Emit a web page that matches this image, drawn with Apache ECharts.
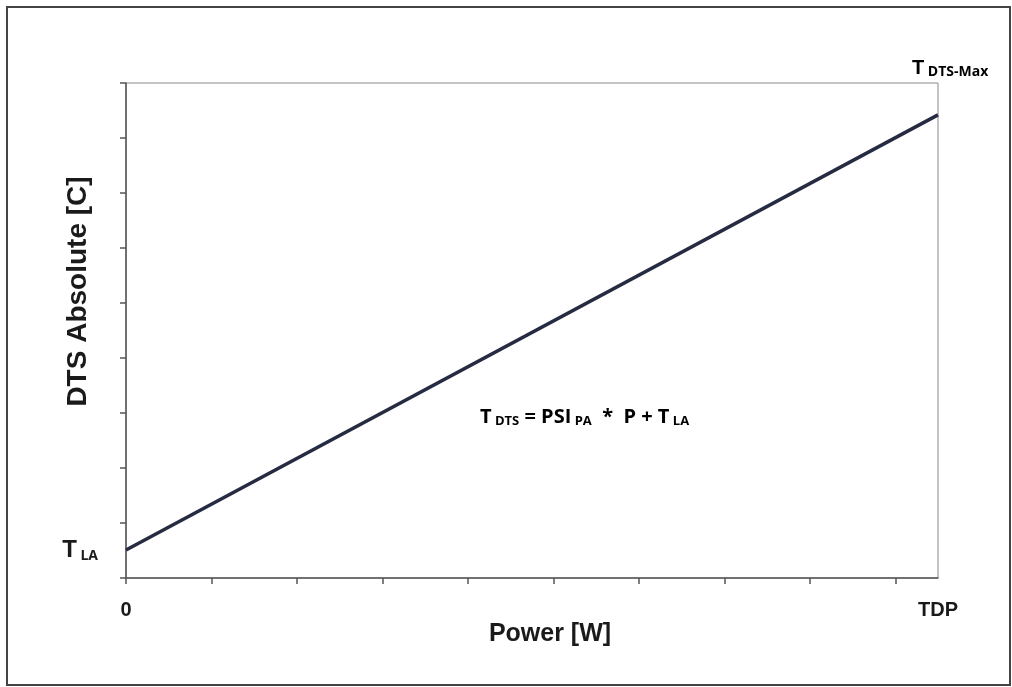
<!DOCTYPE html>
<html>
<head>
<meta charset="utf-8">
<script src="https://cdn.jsdelivr.net/npm/echarts@6/dist/echarts.min.js"></script>
<style>
html, body { margin: 0; padding: 0; background: #fff; }
#chart { width: 1012px; height: 687px; }
</style>
</head>
<body>
<div id="chart"></div>
<script>
// power axis runs 0 .. TDP, ticks every unit, TDP sits half a unit past the last tick
var powerTicks = [0, 1, 2, 3, 4, 5, 6, 7, 8, 9];
var powerEnds = [0, 9.5];
var powerEndLabels = ['0', 'TDP'];
var dtsTicks = [0, 1, 2, 3, 4, 5, 6, 7, 8, 9];
// T_DTS = PSI_PA * P + T_LA
var linePower = [0, 9.5];
var lineDts = [0.51, 8.42];

var chart = echarts.init(document.getElementById('chart'));

var option = {
    backgroundColor: '#fff',
    animation: false,
    grid: {
        left: 126,
        right: 74,
        top: 83,
        bottom: 109,
        show: true,
        borderColor: '#8a8a8a',
        borderWidth: 1
    },
    xAxis: {
        type: 'value',
        min: 0,
        max: 9.5,
        name: 'Power [W]',
        nameLocation: 'middle',
        nameGap: 44,
        nameMoveOverlap: false,
        nameTextStyle: {
            fontFamily: 'Liberation Sans',
            fontWeight: 'bold',
            fontSize: 25,
            color: '#1a1a1a',
            padding: [0, 0, 0, 36]
        },
        axisLine: { lineStyle: { color: '#555', width: 1.5 } },
        axisTick: {
            length: 6,
            customValues: powerTicks,
            lineStyle: { color: '#555', width: 1.5 }
        },
        axisLabel: {
            customValues: powerEnds,
            margin: 22,
            fontFamily: 'Liberation Sans',
            fontWeight: 'bold',
            fontSize: 20,
            color: '#1a1a1a',
            formatter: function (v) {
                return powerEndLabels[powerEnds.indexOf(v)];
            }
        },
        splitLine: { show: false }
    },
    yAxis: {
        type: 'value',
        min: 0,
        max: 9,
        interval: 1,
        name: 'DTS Absolute [C]',
        nameLocation: 'middle',
        nameGap: 34,
        nameMoveOverlap: false,
        nameTextStyle: {
            fontFamily: 'Liberation Sans',
            fontWeight: 'bold',
            fontSize: 28,
            color: '#1a1a1a',
            padding: [0, 0, 0, 78]
        },
        axisLine: { show: true, lineStyle: { color: '#555', width: 1.5 } },
        axisTick: {
            show: true,
            length: 6,
            customValues: dtsTicks,
            lineStyle: { color: '#555', width: 1.5 }
        },
        axisLabel: {
            customValues: [lineDts[0]],
            margin: 28,
            formatter: function () {
                return '{t|T}{s| LA}';
            },
            rich: {
                t: { fontFamily: 'Liberation Sans', fontWeight: 'bold', fontSize: 24, color: '#1a1a1a' },
                s: { fontFamily: 'Open Sans', fontWeight: 'bold', fontSize: 14, color: '#1a1a1a', padding: [12, 0, 0, 0] }
            }
        },
        splitLine: { show: false }
    },
    graphic: [
        {
            type: 'rect',
            shape: { x: 7, y: 7, width: 1003, height: 678 },
            style: { fill: 'none', stroke: '#444', lineWidth: 2 },
            silent: true
        },
        {
            type: 'text',
            left: 912,
            top: 58,
            style: {
                text: '{t|T}{s| DTS-Max}',
                rich: {
                    t: { fontFamily: 'Liberation Sans', fontWeight: 'bold', fontSize: 20, color: '#1a1a1a' },
                    s: { fontFamily: 'Open Sans', fontWeight: 'bold', fontSize: 14, color: '#1a1a1a', padding: [9, 0, 0, 0] }
                }
            }
        },
        {
            type: 'text',
            left: 480,
            top: 407,
            style: {
                text: '{t|T}{s| DTS}{t| = PSI}{s| PA}{t|  *  P + T}{s| LA}',
                rich: {
                    t: { fontFamily: 'Open Sans', fontWeight: 'bold', fontSize: 20, color: '#1a1a1a' },
                    s: { fontFamily: 'Open Sans', fontWeight: 'bold', fontSize: 13, color: '#1a1a1a', padding: [9, 0, 0, 0] }
                }
            }
        }
    ],
    series: [
        {
            type: 'line',
            data: linePower.map(function (p, i) { return [p, lineDts[i]]; }),
            symbol: 'none',
            lineStyle: { color: '#272b42', width: 3.5 }
        }
    ]
};

chart.setOption(option);
</script>
</body>
</html>
